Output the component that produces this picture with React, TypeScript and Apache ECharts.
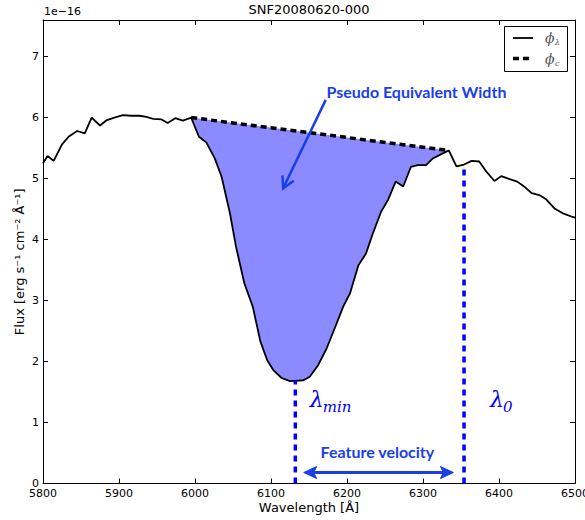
import React, { useEffect, useRef } from "react";
import * as echarts from "echarts";

// Spectrum (wavelength in Å, flux in 1e-16 erg s^-1 cm^-2 Å^-1)
const wavelength = [
  5800, 5806, 5814, 5825, 5834, 5845, 5855, 5864, 5875, 5884, 5894, 5905, 5916, 5927, 5936, 5945,
  5956, 5964, 5974, 5984, 5995, 6005, 6015, 6026, 6035, 6046, 6054, 6065, 6076, 6086, 6095, 6103,
  6114, 6125, 6142, 6151, 6162, 6173, 6184, 6195, 6204, 6215, 6225, 6234, 6245, 6254, 6264, 6274,
  6284, 6293, 6304, 6313, 6324, 6334, 6344, 6354, 6364, 6374, 6383, 6394, 6403, 6414, 6424, 6434,
  6443, 6453, 6462, 6473, 6484, 6497, 6500,
];
const flux = [
  5.25, 5.37, 5.29, 5.56, 5.69, 5.78, 5.74, 6.0, 5.87, 5.96, 6.0, 6.04, 6.03, 6.03, 6.01, 5.98,
  5.97, 5.91, 5.99, 5.95, 6.0, 5.69, 5.59, 5.33, 5.03, 4.43, 3.88, 3.28, 2.9, 2.33, 2.02, 1.86,
  1.73, 1.68, 1.69, 1.75, 1.94, 2.21, 2.55, 2.9, 3.12, 3.58, 3.77, 4.1, 4.46, 4.65, 4.95, 4.87,
  5.19, 5.22, 5.22, 5.33, 5.4, 5.46, 5.2, 5.23, 5.29, 5.28, 5.12, 4.96, 5.04, 4.99, 4.95, 4.86,
  4.76, 4.73, 4.66, 4.51, 4.43, 4.37, 4.36,
];
// Pseudo continuum end points
const continuumWave = [5995, 6334];
const continuumFlux = [6.0, 5.46];
// Feature markers
const lambdaMinWave = 6132;
const lambdaMinFlux = 1.69;
const lambda0Wave = 6354;
const lambda0Flux = 5.23;

const xMin = 5800;
const xMax = 6500;
const xStep = 100;
const yMin = 0;
const yMax = 7.6;
const yStep = 1;

const BLUE = "#0000ff";
const ANNOT = "#1a3ee8";
const FILL = "#8b8bff";

export default function App() {
  const ref = useRef<HTMLDivElement>(null);

  useEffect(() => {
    if (!ref.current) return;
    const chart = echarts.init(ref.current, undefined, { renderer: "svg" });

    const fluxData = wavelength.map((w, i) => [w, flux[i]]);
    const fillPoly: number[][] = [];
    wavelength.forEach((w, i) => {
      if (w >= continuumWave[0] && w <= continuumWave[1]) fillPoly.push([w, flux[i]]);
    });
    fillPoly.push([continuumWave[1], continuumFlux[1]]);
    fillPoly.push([continuumWave[0], continuumFlux[0]]);

    const tickFont = { color: "#000", fontSize: 11, fontFamily: "DejaVu Sans" };
    const baseX = {
      type: "value" as const,
      min: xMin,
      max: xMax,
      interval: xStep,
      splitLine: { show: false },
      axisLine: { show: true, onZero: false, lineStyle: { color: "#000", width: 1 } },
      axisTick: { show: true, inside: true, length: 5, lineStyle: { color: "#000" } },
    };
    const baseY = {
      type: "value" as const,
      min: yMin,
      max: yMax,
      interval: yStep,
      splitLine: { show: false },
      axisLine: { show: true, onZero: false, lineStyle: { color: "#000", width: 1 } },
      axisTick: { show: true, inside: true, length: 5, lineStyle: { color: "#000" } },
    };

    chart.setOption({
      animation: false,
      grid: { left: 43, right: 10, top: 20, bottom: 36.5, containLabel: false, outerBoundsMode: "none" },
      xAxis: [
        {
          ...baseX,
          position: "bottom",
          axisLabel: { ...tickFont, margin: 4, formatter: (v: number) => String(v) },
        },
        { ...baseX, position: "top", axisLabel: { show: false } },
      ],
      yAxis: [
        {
          ...baseY,
          position: "left",
          axisLabel: {
            ...tickFont,
            margin: 4,
            showMaxLabel: false,
            formatter: (v: number) => (Number.isInteger(v) ? String(v) : ""),
          },
        },
        { ...baseY, position: "right", axisLabel: { show: false } },
      ],
      series: [
        {
          type: "custom",
          xAxisIndex: 0,
          yAxisIndex: 0,
          z: 1,
          data: [[continuumWave[0], continuumFlux[0]]],
          encode: { x: 0, y: 1 },
          renderItem: (_p: any, api: any) => ({
            type: "polygon",
            shape: { points: fillPoly.map((p) => api.coord(p)) },
            style: { fill: FILL, stroke: "none" },
          }),
        },
        {
          type: "line",
          xAxisIndex: 0,
          yAxisIndex: 0,
          z: 3,
          data: fluxData,
          showSymbol: false,
          symbol: "none",
          lineStyle: { color: "#000", width: 1.8 },
        },
        {
          type: "line",
          xAxisIndex: 0,
          yAxisIndex: 0,
          z: 4,
          data: continuumWave.map((w, i) => [w, continuumFlux[i]]),
          symbol: "none",
          lineStyle: { color: "#000", width: 3.5, type: [6, 4], cap: "butt" },
        },
        {
          type: "line",
          xAxisIndex: 0,
          yAxisIndex: 0,
          z: 4,
          data: [
            [lambdaMinWave, 0],
            [lambdaMinWave, lambdaMinFlux],
          ],
          symbol: "none",
          lineStyle: { color: BLUE, width: 3.5, type: [6, 5], cap: "butt" },
        },
        {
          type: "line",
          xAxisIndex: 0,
          yAxisIndex: 0,
          z: 4,
          data: [
            [lambda0Wave, 0],
            [lambda0Wave, lambda0Flux],
          ],
          symbol: "none",
          lineStyle: { color: BLUE, width: 3.5, type: [6, 5], cap: "butt" },
        },
      ],
    });

    const P = (x: number, y: number) =>
      chart.convertToPixel({ seriesIndex: 1 }, [x, y]) as number[];

    const [x0, yTop] = P(xMin, yMax);
    const [x1, yBot] = P(xMax, yMin);
    const cx = (x0 + x1) / 2;

    // PEW arrow
    const aS = P(6172, 6.29);
    const aE = P(6116, 4.84);
    const ang = Math.atan2(aE[1] - aS[1], aE[0] - aS[0]);
    const hl = 13;
    const h1 = [aE[0] - hl * Math.cos(ang - 0.5), aE[1] - hl * Math.sin(ang - 0.5)];
    const h2 = [aE[0] - hl * Math.cos(ang + 0.5), aE[1] - hl * Math.sin(ang + 0.5)];

    // velocity double arrow
    const vL = P(6143, 0.18);
    const vR = P(6340, 0.18);
    const ah = 13;
    const aw = 6;

    const lmT = P(6151, 1.37);
    const l0T = P(6388, 1.37);
    const pewT = P(6173, 6.43);
    const fvT = P(6240, 0.52);

    const serif = "DejaVu Serif";
    const legX = x1 - 71;
    const legY = yTop + 6;

    chart.setOption({
      graphic: [
        {
          type: "text",
          x: cx,
          y: 3,
          style: { text: "SNF20080620-000", fill: "#000", fontSize: 13, fontFamily: "DejaVu Sans", textAlign: "center", textVerticalAlign: "top" },
        },
        {
          type: "text",
          x: x0 + 1,
          y: 6,
          style: { text: "1e\u221216", fill: "#000", fontSize: 11, fontFamily: "DejaVu Sans", textAlign: "left", textVerticalAlign: "top" },
        },
        {
          type: "text",
          x: 19,
          y: (yTop + yBot) / 2 + 10,
          rotation: Math.PI / 2,
          style: {
            text: "Flux [erg s\u207B\u00B9 cm\u207B\u00B2 \u00C5\u207B\u00B9]",
            fill: "#000",
            fontSize: 13,
            fontFamily: "DejaVu Sans",
            textAlign: "center",
            textVerticalAlign: "middle",
          },
        },
        {
          type: "text",
          x: cx,
          y: yBot + 24,
          style: { text: "Wavelength [\u00C5]", fill: "#000", fontSize: 13, fontFamily: "DejaVu Sans", textAlign: "center", textVerticalAlign: "middle" },
        },
        // legend
        {
          type: "rect",
          shape: { x: legX + 0.5, y: legY + 0.5, width: 63, height: 45 },
          style: { fill: "#fff", stroke: "#000", lineWidth: 1 },
          z: 10,
        },
        {
          type: "line",
          shape: { x1: legX + 9, y1: legY + 12, x2: legX + 29, y2: legY + 12 },
          style: { stroke: "#000", lineWidth: 1.8 },
          z: 11,
        },
        {
          type: "line",
          shape: { x1: legX + 9, y1: legY + 32.5, x2: legX + 29, y2: legY + 32.5 },
          style: { stroke: "#000", lineWidth: 3.5, lineDash: [6, 4] },
          z: 11,
        },
        {
          type: "text",
          x: legX + 41,
          y: legY + 12,
          z: 11,
          style: { text: "\u03D5", fill: "#555", fontSize: 14, fontStyle: "italic", fontFamily: serif, textAlign: "left", textVerticalAlign: "middle" },
        },
        {
          type: "text",
          x: legX + 51,
          y: legY + 16,
          z: 11,
          style: { text: "\u03BB", fill: "#555", fontSize: 8, fontStyle: "italic", fontFamily: serif, textAlign: "left", textVerticalAlign: "middle" },
        },
        {
          type: "text",
          x: legX + 41,
          y: legY + 33,
          z: 11,
          style: { text: "\u03D5", fill: "#555", fontSize: 14, fontStyle: "italic", fontFamily: serif, textAlign: "left", textVerticalAlign: "middle" },
        },
        {
          type: "text",
          x: legX + 51,
          y: legY + 37,
          z: 11,
          style: { text: "c", fill: "#555", fontSize: 8, fontStyle: "italic", fontFamily: serif, textAlign: "left", textVerticalAlign: "middle" },
        },
        // Pseudo Equivalent Width
        {
          type: "text",
          x: pewT[0],
          y: pewT[1],
          z: 12,
          style: { text: "Pseudo Equivalent Width", fill: ANNOT, fontSize: 16, fontWeight: "bold", fontFamily: "Lato", textAlign: "left", textVerticalAlign: "middle" },
        },
        {
          type: "line",
          z: 12,
          shape: { x1: aS[0], y1: aS[1], x2: aE[0], y2: aE[1] },
          style: { stroke: ANNOT, lineWidth: 2.5 },
        },
        {
          type: "polyline",
          z: 12,
          shape: { points: [h1, aE, h2] },
          style: { stroke: ANNOT, lineWidth: 2.5, fill: "none" },
        },
        // lambda labels
        {
          type: "text",
          x: lmT[0],
          y: lmT[1],
          z: 12,
          style: { text: "\u03BB", fill: BLUE, fontSize: 22, fontStyle: "italic", fontFamily: serif, textAlign: "left", textVerticalAlign: "middle" },
        },
        {
          type: "text",
          x: lmT[0] + 13,
          y: lmT[1] + 7,
          z: 12,
          style: { text: "min", fill: BLUE, fontSize: 15, fontStyle: "italic", fontFamily: serif, textAlign: "left", textVerticalAlign: "middle" },
        },
        {
          type: "text",
          x: l0T[0],
          y: l0T[1],
          z: 12,
          style: { text: "\u03BB", fill: BLUE, fontSize: 22, fontStyle: "italic", fontFamily: serif, textAlign: "left", textVerticalAlign: "middle" },
        },
        {
          type: "text",
          x: l0T[0] + 13,
          y: l0T[1] + 7,
          z: 12,
          style: { text: "0", fill: BLUE, fontSize: 15, fontStyle: "italic", fontFamily: serif, textAlign: "left", textVerticalAlign: "middle" },
        },
        // Feature velocity
        {
          type: "text",
          x: fvT[0],
          y: fvT[1],
          z: 12,
          style: { text: "Feature velocity", fill: ANNOT, fontSize: 16, fontWeight: "bold", fontFamily: "Lato", textAlign: "center", textVerticalAlign: "middle" },
        },
        {
          type: "line",
          z: 12,
          shape: { x1: vL[0] + 6, y1: vL[1], x2: vR[0] - 6, y2: vR[1] },
          style: { stroke: ANNOT, lineWidth: 3 },
        },
        {
          type: "polygon",
          z: 12,
          shape: { points: [[vL[0], vL[1]], [vL[0] + ah, vL[1] - aw], [vL[0] + ah - 3, vL[1]], [vL[0] + ah, vL[1] + aw]] },
          style: { fill: ANNOT, stroke: ANNOT, lineWidth: 1 },
        },
        {
          type: "polygon",
          z: 12,
          shape: { points: [[vR[0], vR[1]], [vR[0] - ah, vR[1] - aw], [vR[0] - ah + 3, vR[1]], [vR[0] - ah, vR[1] + aw]] },
          style: { fill: ANNOT, stroke: ANNOT, lineWidth: 1 },
        },
      ],
    });

    return () => chart.dispose();
  }, []);

  return (
    <div
      ref={ref}
      style={{ position: "fixed", left: 0, top: 0, width: 585, height: 520, background: "#fff" }}
    />
  );
}
